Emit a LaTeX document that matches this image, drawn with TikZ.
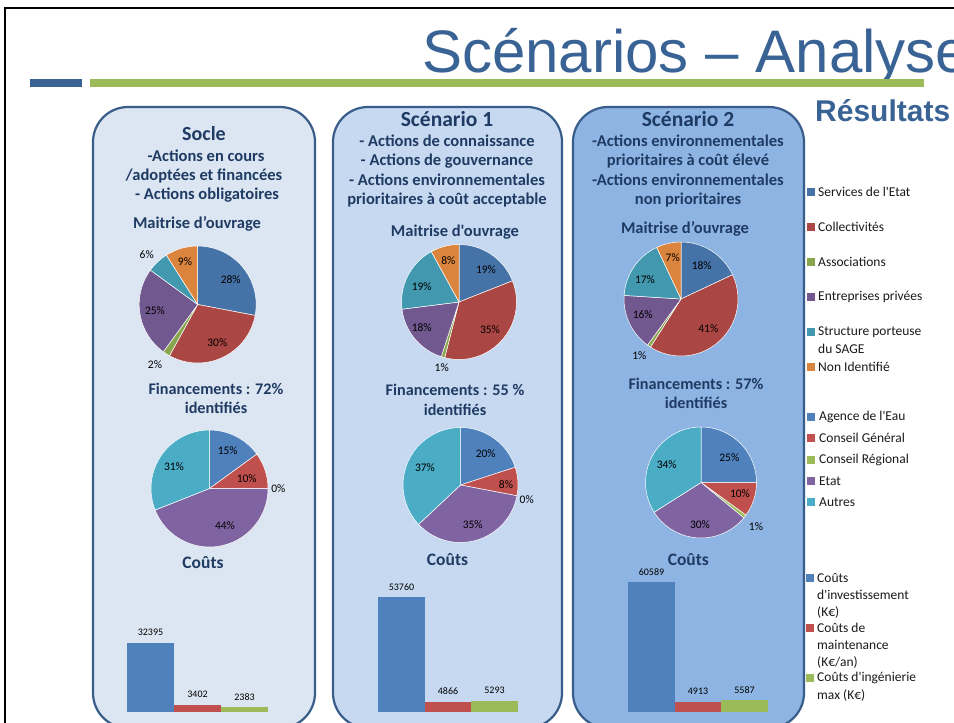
\documentclass[tikz,border=0pt]{standalone}
\usepackage{fontspec}
\setmainfont{Carlito}
\newfontfamily\plaincal{Carlito}
\newfontfamily\arialfont{Liberation Sans}
\definecolor{titleblue}{HTML}{3A6395}
\definecolor{bargreen}{HTML}{9BBB59}
\definecolor{headblue}{HTML}{1F3B63}
\definecolor{panelA}{HTML}{DCE6F2}
\definecolor{panelB}{HTML}{C6D9F1}
\definecolor{panelC}{HTML}{8DB4E2}
\definecolor{panelborder}{HTML}{385D8A}
\definecolor{mBlue}{HTML}{4572A7}
\definecolor{mRed}{HTML}{AA4643}
\definecolor{mGreen}{HTML}{89A54E}
\definecolor{mPurple}{HTML}{71588F}
\definecolor{mTeal}{HTML}{4198AF}
\definecolor{mOrange}{HTML}{DB843D}
\definecolor{fBlue}{HTML}{4F81BD}
\definecolor{fRed}{HTML}{C0504D}
\definecolor{fGreen}{HTML}{9BBB59}
\definecolor{fPurple}{HTML}{8064A2}
\definecolor{fTeal}{HTML}{4BACC6}
\definecolor{legblack}{HTML}{1A1A1A}
\newcommand{\mypiechart}[3]{%
  \gdef\piecum{0}%
  \foreach \p/\col in {#3} {%
    \pgfmathsetmacro{\pa}{90-3.6*\piecum}%
    \pgfmathsetmacro{\pb}{90-3.6*(\piecum+\p)}%
    \fill[\col, draw=white, line width=0.5pt, line join=round] (#1) -- ++(\pa:#2) arc[start angle=\pa, end angle=\pb, radius=#2] -- cycle;%
    \pgfmathsetmacro{\pnew}{\piecum+\p}%
    \global\let\piecum\pnew
  }%
}
\tikzset{
  panel/.style={draw=panelborder, line width=2.2pt, rounded corners=35pt},
  bighead/.style={anchor=base, inner sep=0pt, text=headblue, font=\bfseries\fontsize{20}{24}\selectfont},
  scenhead/.style={anchor=base, inner sep=0pt, text=headblue, font=\bfseries\fontsize{21.5}{25}\selectfont},
  head/.style={anchor=base, inner sep=0pt, text=headblue, font=\bfseries\fontsize{16.5}{19}\selectfont},
  midhead/.style={anchor=base, inner sep=0pt, text=headblue, font=\bfseries\fontsize{16.5}{19}\selectfont},
  finhead/.style={anchor=base, inner sep=0pt, text=headblue, font=\bfseries\fontsize{16.2}{19}\selectfont},
  costhead/.style={anchor=base, inner sep=0pt, text=headblue, font=\bfseries\fontsize{17.5}{21}\selectfont},
  plabel/.style={inner sep=0pt, font=\fontsize{11.5}{13}\selectfont, text=black},
  blabel/.style={inner sep=0pt, font=\fontsize{10}{12}\selectfont, text=black},
  legtext/.style={anchor=west, inner sep=0pt, font=\plaincal\fontsize{13.5}{16}\selectfont, text=legblack},
  legbox/.style={minimum size=8pt, inner sep=0pt, draw=none},
}
\begin{document}
\begin{tikzpicture}[x=1pt, y=-1pt]
\useasboundingbox (0,0) rectangle (954,723);
\fill[white] (0,0) rectangle (954,723);
% frame
\draw[line width=2.5pt, black] (5,723) -- (5,8) -- (954,8);
% title
\node[anchor=base west, inner sep=0pt, text=titleblue, font=\arialfont\fontsize{60}{70}\selectfont] (title) at (422,72) {Scénarios – Analyse};
\fill[titleblue] (30,79) rectangle (82,87);
\fill[bargreen] (90,79) rectangle (924,87);
\node[anchor=base west, inner sep=0pt, text=titleblue, font=\arialfont\bfseries\fontsize{30}{34}\selectfont] (res) at (815,121) {Résultats};
% panels
\draw[panel, fill=panelA] (93,107) rectangle (315,728);
\draw[panel, fill=panelB] (333,107) rectangle (562,728);
\draw[panel, fill=panelC] (573,107) rectangle (804,728);
% panel 1 headings
\node[bighead] (h1) at (204,140) {Socle};
\node[head] (h1a) at (206,161.5) {-Actions en cours};
\node[head] (h1b) at (204,180.5) {/adoptées et financées};
\node[head] (h1c) at (207,199.5) {- Actions obligatoires};
\node[midhead] (h1m) at (197,228) {Maitrise d’ouvrage};
% panel 2 headings
\node[scenhead] (h2) at (447,126) {Scénario 1};
\node[head] (h2a) at (447,146) {- Actions de connaissance};
\node[head] (h2b) at (447,165.5) {- Actions de gouvernance};
\node[head] (h2c) at (447,185) {- Actions environnementales};
\node[head] (h2d) at (447,204) {prioritaires à coût acceptable};
\node[midhead, font=\plaincal\bfseries\fontsize{16.5}{19}\selectfont] (h2m) at (455,236) {Maitrise d'ouvrage};
% panel 3 headings
\node[scenhead] (h3) at (688,126) {Scénario 2};
\node[head] (h3a) at (688,146) {-Actions environnementales};
\node[head] (h3b) at (688,165.5) {prioritaires à coût élevé};
\node[head] (h3c) at (688,185) {-Actions environnementales};
\node[head] (h3d) at (688,204) {non prioritaires};
\node[midhead] (h3m) at (685,233) {Maitrise d’ouvrage};
% pie centres
\coordinate (m1) at (197.7,304.5);
\coordinate (m2) at (459,302);
\coordinate (m3) at (681,299);
\coordinate (f1) at (209.5,488.5);
\coordinate (f2) at (460.5,485);
\coordinate (f3) at (701,482.5);
\mypiechart{m1}{58.5pt}{28/mBlue,30/mRed,2/mGreen,25/mPurple,6/mTeal,9/mOrange}
\mypiechart{m2}{57.5pt}{19/mBlue,35/mRed,1/mGreen,18/mPurple,19/mTeal,8/mOrange}
\mypiechart{m3}{57pt}{18/mBlue,41/mRed,1/mGreen,16/mPurple,17/mTeal,7/mOrange}
\mypiechart{f1}{58.5pt}{15/fBlue,10/fRed,44/fPurple,31/fTeal}
\mypiechart{f2}{57.5pt}{20/fBlue,8/fRed,35/fPurple,37/fTeal}
\mypiechart{f3}{55.5pt}{25/fBlue,10/fRed,1/fGreen,30/fPurple,34/fTeal}
% pie labels
\node[plabel] (m1a) at (230.7,279.3) {28\%};
\node[plabel] (m1b) at (217.3,342.7) {30\%};
\node[plabel] (m1c) at (155,365) {2\%};
\node[plabel] (m1d) at (155,311) {25\%};
\node[plabel] (m1e) at (146.7,254.3) {6\%};
\node[plabel] (m1f) at (185,261.7) {9\%};
\node[plabel] (m2a) at (486,269.3) {19\%};
\node[plabel] (m2b) at (490,329.3) {35\%};
\node[plabel] (m2c) at (441.7,367.7) {1\%};
\node[plabel] (m2d) at (421.7,327.7) {18\%};
\node[plabel] (m2e) at (421.7,286.7) {19\%};
\node[plabel] (m2f) at (448.3,260.7) {8\%};
\node[plabel] (m3a) at (701.7,266) {18\%};
\node[plabel] (m3b) at (708.3,329) {41\%};
\node[plabel] (m3c) at (639.3,356) {1\%};
\node[plabel] (m3d) at (642.7,315) {16\%};
\node[plabel] (m3e) at (645,280) {17\%};
\node[plabel] (m3f) at (672.7,257.3) {7\%};
% financement headings
\node[finhead] (g1) at (216,394) {Financements : 72\%};
\node[finhead] (g1b) at (216,413.5) {identifiés};
\node[finhead] (g2) at (455,395) {Financements : 55 \%};
\node[finhead] (g2b) at (455,415) {identifiés};
\node[finhead] (g3) at (696,389.5) {Financements : 57\%};
\node[finhead] (g3b) at (696,408.5) {identifiés};
\node[plabel] (f1a) at (227.7,450.7) {15\%};
\node[plabel] (f1b) at (246.7,478.3) {10\%};
\node[plabel] (f1c) at (278.3,489) {0\%};
\node[plabel] (f1d) at (225,526) {44\%};
\node[plabel] (f1e) at (174,466.7) {31\%};
\node[plabel] (f2a) at (485.7,453.3) {20\%};
\node[plabel] (f2b) at (506,484.3) {8\%};
\node[plabel] (f2c) at (526.7,499.3) {0\%};
\node[plabel] (f2d) at (472.7,525) {35\%};
\node[plabel] (f2e) at (425,467.7) {37\%};
\node[plabel] (f3a) at (729.3,457.7) {25\%};
\node[plabel] (f3b) at (740,493.3) {10\%};
\node[plabel] (f3c) at (756,526.7) {1\%};
\node[plabel] (f3d) at (700,525) {30\%};
\node[plabel] (f3e) at (666.7,464.3) {34\%};
% couts
\node[costhead] (c1) at (203,568) {Coûts};
\node[costhead] (c2) at (447.5,565) {Coûts};
\node[costhead] (c3) at (688.3,565) {Coûts};
% bars panel 1
\fill[fBlue] (127,712) rectangle (174,642.7);
\fill[fRed] (174,712) rectangle (221,704.7);
\fill[fGreen] (221,712) rectangle (268,706.9);
\node[blabel] (b1a) at (150.5,632.7) {32395};
\node[blabel] (b1b) at (197.5,694.7) {3402};
\node[blabel] (b1c) at (244.5,696.9) {2383};
% bars panel 2
\fill[fBlue] (378,712) rectangle (425,597);
\fill[fRed] (425,712) rectangle (471,701.6);
\fill[fGreen] (471,712) rectangle (518,700.7);
\node[blabel] (b2a) at (401.5,587) {53760};
\node[blabel] (b2b) at (448,691.6) {4866};
\node[blabel] (b2c) at (494.5,690.7) {5293};
% bars panel 3
\fill[fBlue] (628,712) rectangle (675,582.3);
\fill[fRed] (675,712) rectangle (721,701.5);
\fill[fGreen] (721,712) rectangle (768,700);
\node[blabel] (b3a) at (651.5,572.3) {60589};
\node[blabel] (b3b) at (698,691.5) {4913};
\node[blabel] (b3c) at (744.5,690) {5587};
% legend 1
\node[legbox, fill=mBlue] (k1) at (810.5,192) {};
\node[legtext] (t1) at (818,192) {Services de l'Etat};
\node[legbox, fill=mRed] (k2) at (810.5,227) {};
\node[legtext] (t2) at (818,227) {Collectivités};
\node[legbox, fill=mGreen] (k3) at (810.5,262) {};
\node[legtext] (t3) at (818,262) {Associations};
\node[legbox, fill=mPurple] (k4) at (810.5,297) {};
\begin{scope}
\clip (806,280) rectangle (921,315);
\node[legtext] (t4) at (818,297) {Entreprises privées};
\end{scope}
\node[legbox, fill=mTeal] (k5) at (810.5,332) {};
\node[legtext] (t5) at (818,332) {Structure porteuse};
\node[legtext] (t5b) at (818,349) {du SAGE};
\node[legbox, fill=mOrange] (k6) at (810.5,367) {};
\node[legtext] (t6) at (818,367) {Non Identifié};
% legend 2
\node[legbox, fill=fBlue] (q1) at (810.5,417) {};
\node[legtext] (u1) at (819,417) {Agence de l'Eau};
\node[legbox, fill=fRed] (q2) at (810.5,438) {};
\node[legtext] (u2) at (819,438) {Conseil Général};
\node[legbox, fill=fGreen] (q3) at (810.5,460) {};
\node[legtext] (u3) at (819,460) {Conseil Régional};
\node[legbox, fill=fPurple] (q4) at (810.5,481) {};
\node[legtext] (u4) at (819,481) {Etat};
\node[legbox, fill=fTeal] (q5) at (810.5,502) {};
\node[legtext] (u5) at (819,502) {Autres};
% legend 3
\node[legbox, fill=fBlue] (r1) at (810,578) {};
\node[legtext] (v1) at (817,578) {Coûts};
\node[legtext] (v1b) at (817,595) {d'investissement};
\node[legtext] (v1c) at (817,612) {(K€)};
\node[legbox, fill=fRed] (r2) at (810,628) {};
\node[legtext] (v2) at (817,628) {Coûts de};
\node[legtext] (v2b) at (817,645) {maintenance};
\node[legtext] (v2c) at (817,662) {(K€/an)};
\node[legbox, fill=fGreen] (r3) at (810,678) {};
\node[legtext] (v3) at (817,678) {Coûts d'ingénierie};
\node[legtext] (v3b) at (817,695) {max (K€)};
\end{tikzpicture}
\end{document}
